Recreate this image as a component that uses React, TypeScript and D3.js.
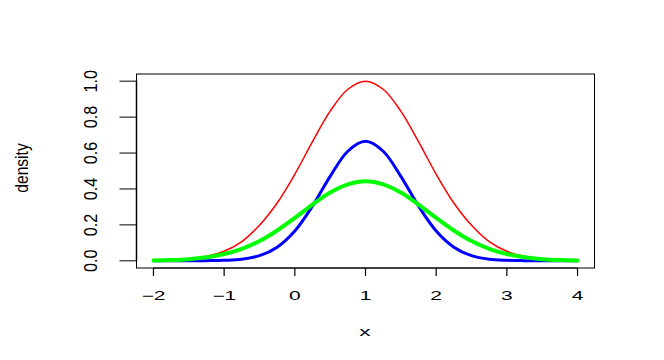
import React from 'react'
import * as d3 from 'd3'

// x grid the curves were read on (step 0.25)
const xs = [-2, -1.75, -1.5, -1.25, -1, -0.75, -0.5, -0.25, 0, 0.25, 0.5, 0.75, 1,
  1.25, 1.5, 1.75, 2, 2.25, 2.5, 2.75, 3, 3.25, 3.5, 3.75, 4]

const redY = [0.002, 0.004, 0.011, 0.025, 0.053, 0.107, 0.198, 0.322, 0.482, 0.663, 0.833, 0.955, 1.0,
  0.955, 0.833, 0.663, 0.482, 0.322, 0.198, 0.107, 0.053, 0.025, 0.011, 0.004, 0.002]

const blueY = [0, 0, 0, 0.001, 0.003, 0.009, 0.029, 0.076, 0.166, 0.305, 0.47, 0.61, 0.665,
  0.61, 0.47, 0.305, 0.166, 0.076, 0.029, 0.009, 0.003, 0.001, 0, 0, 0]

const greenY = [0.002, 0.004, 0.009, 0.02, 0.038, 0.067, 0.11, 0.169, 0.239, 0.313, 0.38, 0.426, 0.443,
  0.426, 0.38, 0.313, 0.239, 0.169, 0.11, 0.067, 0.038, 0.02, 0.009, 0.004, 0.002]

const xTicks = [-2, -1, 0, 1, 2, 3, 4]
const yTicks = [0, 0.2, 0.4, 0.6, 0.8, 1.0]

const series = [
  { name: 'red', values: redY, color: '#ff0000', width: 1.5 },
  { name: 'blue', values: blueY, color: '#0000ff', width: 3 },
  { name: 'green', values: greenY, color: '#00ff00', width: 4 },
]

const W = 664
const H = 360
const left = 136.5, right = 594.5, top = 74, bottom = 268

const fontFamily = '"Liberation Sans", Arial, Helvetica, sans-serif'

export default function App() {
  const x = d3.scaleLinear().domain([-2.24, 4.24]).range([left, right])
  const y = d3.scaleLinear().domain([-0.04, 1.04]).range([bottom, top])

  const line = d3.line<number>()
    .x((_, i) => x(xs[i]))
    .y((d) => y(d))
    .curve(d3.curveCatmullRom.alpha(0.5))

  const fmtX = (v: number) => (v < 0 ? '\u2212' + Math.abs(v) : String(v))

  return (
    <svg width={W} height={H} style={{ position: 'absolute', left: 0, top: 0, background: '#fff' }}
      fontFamily={fontFamily}>
      <rect x={0} y={0} width={W} height={H} fill="#fff" />

      {series.map((s) => (
        <path key={s.name} d={line(s.values) || ''} fill="none" stroke={s.color}
          strokeWidth={s.width} strokeLinecap="round" strokeLinejoin="round" />
      ))}

      {/* box */}
      <rect x={left} y={top} width={right - left} height={bottom - top} fill="none" stroke="#000" strokeWidth={1} />

      {/* x axis */}
      <line x1={x(xTicks[0])} x2={x(xTicks[xTicks.length - 1])} y1={bottom} y2={bottom} stroke="#000" />
      {xTicks.map((t) => (
        <g key={'xt' + t}>
          <line x1={x(t)} x2={x(t)} y1={bottom} y2={bottom + 8} stroke="#000" strokeWidth={1.2} />
          <text transform={`translate(${x(t)},300) scale(1.75,1)`} textAnchor="middle" fontSize={12} fill="#000">
            {fmtX(t)}
          </text>
        </g>
      ))}

      {/* y axis */}
      <line x1={left} x2={left} y1={y(0)} y2={y(1)} stroke="#000" strokeWidth={1.5} />
      {yTicks.map((t) => (
        <g key={'yt' + t}>
          <line x1={left - 17} x2={left} y1={y(t)} y2={y(t)} stroke="#000" strokeWidth={1} />
          <text transform={`translate(96.5,${y(t)}) rotate(-90) scale(1.35,1.6)`} textAnchor="middle"
            fontSize={12} fill="#000">
            {t.toFixed(1)}
          </text>
        </g>
      ))}

      {/* axis titles */}
      <text transform="translate(365,336) scale(1.75,1)" textAnchor="middle" fontSize={13} fill="#000">x</text>
      <text transform="translate(28,168) rotate(-90) scale(1.3,1.55)" textAnchor="middle" fontSize={12} fill="#000">
        density
      </text>
    </svg>
  )
}
